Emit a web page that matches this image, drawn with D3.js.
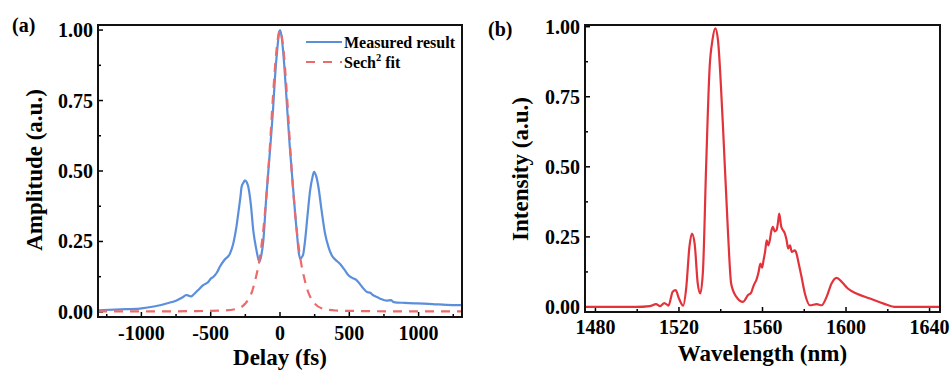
<!DOCTYPE html>
<html>
<head>
<meta charset="utf-8">
<script src="https://cdn.jsdelivr.net/npm/d3@7"></script>
<style>
  body { margin: 0; background: #fff; }
  svg text { font-family: 'Liberation Serif', 'Times New Roman', Times, 'DejaVu Serif', serif; font-weight: bold; }
</style>
</head>
<body>
<svg id="chart" width="950" height="370"></svg>
<script>
// (a) autocorrelation trace: delay (fs) / amplitude
const delayMeasured = [-1313, -1150, -1012, -900, -819, -750, -699, -675, -660, -640, -627, -590, -554, -520, -500, -482, -455, -434, -400, -361, -337, -315, -301, -285, -277, -262, -253, -240, -229, -210, -193, -170, -149, -135, -120, -100, -72, -50, -36, -20, -5, 0, 12, 30, 48, 70, 96, 120, 145, 165, 181, 200, 217, 235, 246, 262, 277, 300, 325, 350, 374, 400, 434, 465, 494, 525, 554, 590, 627, 651, 670, 690, 723, 770, 800, 819, 900, 988, 1100, 1200, 1313]
const ampMeasured = [0.006, 0.009, 0.012, 0.02, 0.03, 0.04, 0.053, 0.06, 0.058, 0.055, 0.06, 0.078, 0.095, 0.105, 0.118, 0.124, 0.14, 0.16, 0.185, 0.207, 0.243, 0.3, 0.35, 0.41, 0.444, 0.46, 0.467, 0.46, 0.444, 0.38, 0.29, 0.22, 0.178, 0.2, 0.254, 0.4, 0.574, 0.72, 0.834, 0.93, 0.994, 1.0, 0.976, 0.88, 0.75, 0.59, 0.43, 0.29, 0.19, 0.2, 0.254, 0.35, 0.43, 0.48, 0.497, 0.48, 0.444, 0.36, 0.278, 0.23, 0.2, 0.185, 0.17, 0.15, 0.13, 0.12, 0.112, 0.09, 0.071, 0.068, 0.06, 0.055, 0.047, 0.04, 0.042, 0.035, 0.032, 0.03, 0.028, 0.025, 0.024]
const delayFit = [-1313, -800, -600, -400, -300, -250, -200, -175, -150, -125, -100, -75, -50, -25, 0, 25, 50, 75, 100, 125, 150, 175, 200, 250, 300, 400, 600, 800, 1313]
const ampFit = [0.002, 0.002, 0.003, 0.005, 0.013, 0.03, 0.075, 0.12, 0.18, 0.27, 0.4, 0.57, 0.77, 0.93, 1.0, 0.93, 0.77, 0.57, 0.4, 0.27, 0.18, 0.12, 0.075, 0.03, 0.013, 0.005, 0.003, 0.002, 0.002]

// (b) optical spectrum: wavelength (nm) / intensity
const wavelength = [1475, 1490, 1499.5, 1506, 1509, 1511, 1513, 1515, 1517, 1518.4, 1520, 1522, 1523.5, 1525, 1526.2, 1527.5, 1529, 1530.2, 1531.5, 1533, 1534.7, 1536, 1537.4, 1538.7, 1541, 1543.5, 1545, 1547.5, 1550.7, 1552, 1553, 1554.5, 1555.5, 1556.3, 1557, 1558, 1559, 1559.8, 1560.5, 1561.3, 1562, 1562.8, 1563.5, 1564.2, 1565, 1565.8, 1566.7, 1567.4, 1568, 1569, 1570.7, 1571.5, 1572.3, 1573.2, 1574, 1575.5, 1576.3, 1577, 1578.7, 1580.3, 1582.7, 1586, 1588.3, 1590.7, 1593, 1595.5, 1598, 1601, 1605, 1611.5, 1618, 1624, 1645]
const intensity = [0.0, 0.0, 0.0, 0.003, 0.01, 0.003, 0.014, 0.005, 0.054, 0.06, 0.03, 0.005, 0.07, 0.214, 0.262, 0.226, 0.083, 0.048, 0.13, 0.5, 0.857, 0.95, 0.994, 0.95, 0.655, 0.262, 0.083, 0.036, 0.018, 0.03, 0.042, 0.05, 0.071, 0.085, 0.095, 0.12, 0.155, 0.14, 0.167, 0.2, 0.238, 0.22, 0.238, 0.27, 0.286, 0.27, 0.274, 0.3, 0.333, 0.286, 0.262, 0.24, 0.208, 0.22, 0.196, 0.202, 0.19, 0.167, 0.107, 0.048, 0.006, 0.01, 0.006, 0.036, 0.083, 0.104, 0.089, 0.065, 0.048, 0.03, 0.012, 0.0, 0.0]

const yTicks = [0, 0.25, 0.5, 0.75, 1]
const delayTicks = [-1000, -500, 0, 500, 1000]
const wavelengthTicks = [1480, 1520, 1560, 1600, 1640]

const svg = d3.select('#chart')

function drawPanel(opts) {
  const { left, top, right, bottom } = opts.box
  const x = d3.scaleLinear().domain(opts.xDomain).range([left, right])
  const y = d3.scaleLinear().domain(opts.yDomain).range([bottom, top])
  const g = svg.append('g')

  // minor ticks (inward)
  const xMinor = d3.range(opts.xTicks[0] - opts.xStep / 2, opts.xDomain[1], opts.xStep / 2)
    .filter(v => v > opts.xDomain[0] && v < opts.xDomain[1])
  g.selectAll('.xminor').data(xMinor).join('line')
    .attr('x1', d => x(d)).attr('x2', d => x(d))
    .attr('y1', bottom).attr('y2', d => bottom - (opts.xTicks.includes(d) ? 5 : 3))
    .attr('stroke', '#000').attr('stroke-width', 1.5)
  const yMinor = d3.range(0, 1.001, 0.125)
  g.selectAll('.yminor').data(yMinor).join('line')
    .attr('x1', left).attr('x2', d => left + (yTicks.includes(d) ? 5 : 3))
    .attr('y1', d => y(d)).attr('y2', d => y(d))
    .attr('stroke', '#000').attr('stroke-width', 1.5)

  // tick labels
  g.selectAll('.xlab').data(opts.xTicks).join('text')
    .attr('x', d => x(d)).attr('y', opts.xLabelY)
    .attr('text-anchor', 'middle').attr('font-size', 20)
    .text(d => d)
  g.selectAll('.ylab').data(yTicks).join('text')
    .attr('x', left - 5).attr('y', d => y(d)).attr('dy', '0.35em')
    .attr('text-anchor', 'end').attr('font-size', 20)
    .text(d => d3.format('.2f')(d))

  // axis titles
  g.append('text')
    .attr('x', (left + right) / 2 - 0).attr('y', opts.xTitleY)
    .attr('text-anchor', 'middle').attr('font-size', 23)
    .text(opts.xTitle)
  g.append('text')
    .attr('transform', `translate(${opts.yTitleX},${opts.yTitleC}) rotate(-90)`)
    .attr('text-anchor', 'middle').attr('font-size', 23)
    .text(opts.yTitle)
  g.append('text')
    .attr('x', opts.tag[0]).attr('y', opts.tag[1])
    .attr('font-size', 20)
    .text(opts.tagText)

  const clipId = 'clip' + opts.tagText.replace(/\W/g, '')
  g.append('clipPath').attr('id', clipId)
    .append('rect').attr('x', left).attr('y', top).attr('width', right - left).attr('height', bottom - top)

  const line = d3.line().x(d => x(d[0])).y(d => y(d[1]))
  opts.series.forEach(s => {
    g.append('path')
      .datum(d3.zip(s.xs, s.ys))
      .attr('clip-path', `url(#${clipId})`)
      .attr('fill', 'none')
      .attr('stroke', s.color)
      .attr('stroke-width', 2.2)
      .attr('stroke-dasharray', s.dash || null)
      .attr('stroke-linejoin', 'round')
      .attr('d', line.curve(d3.curveMonotoneX))
  })

  // frame
  g.append('rect')
    .attr('x', left).attr('y', top).attr('width', right - left).attr('height', bottom - top)
    .attr('fill', 'none').attr('stroke', '#111').attr('stroke-width', 2)

  return { x, y, g }
}

const BLUE = '#5b8fdc'
const FIT_RED = '#ec6a6a'
const RED = '#e2333b'

const a = drawPanel({
  box: { left: 98, top: 25, right: 462, bottom: 317 },
  xDomain: [-1313, 1313], yDomain: [-0.018, 1.018],
  xTicks: delayTicks, xStep: 500,
  xLabelY: 340, xTitleY: 365, xTitle: 'Delay (fs)',
  yTitle: 'Amplitude (a.u.)', yTitleX: 42, yTitleC: 170,
  tag: [12, 32], tagText: '(a)',
  series: [
    { xs: delayMeasured, ys: ampMeasured, color: BLUE },
    { xs: delayFit, ys: ampFit, color: FIT_RED, dash: '9,7' },
  ],
})

// legend
const legend = a.g.append('g')
legend.append('line').attr('x1', 306).attr('x2', 342).attr('y1', 42).attr('y2', 42)
  .attr('stroke', BLUE).attr('stroke-width', 2.2)
legend.append('text').attr('x', 344).attr('y', 42).attr('dy', 5.5).attr('font-size', 16).text('Measured result')
legend.append('line').attr('x1', 306).attr('x2', 342).attr('y1', 62).attr('y2', 62)
  .attr('stroke', FIT_RED).attr('stroke-width', 2.2).attr('stroke-dasharray', '9,8')
const fitLabel = legend.append('text').attr('x', 344).attr('y', 67.5).attr('font-size', 16)
fitLabel.append('tspan').text('Sech')
fitLabel.append('tspan').attr('font-size', 10.5).attr('dy', -7).text('2')
fitLabel.append('tspan').attr('dy', 7).text(' fit')

drawPanel({
  box: { left: 585, top: 25, right: 940, bottom: 312 },
  xDomain: [1475, 1645], yDomain: [-0.018, 1.006],
  xTicks: wavelengthTicks, xStep: 40,
  xLabelY: 334, xTitleY: 361, xTitle: 'Wavelength (nm)',
  yTitle: 'Intensity (a.u.)', yTitleX: 528, yTitleC: 169,
  tag: [488, 36], tagText: '(b)',
  series: [
    { xs: wavelength, ys: intensity, color: RED },
  ],
})
</script>
</body>
</html>
